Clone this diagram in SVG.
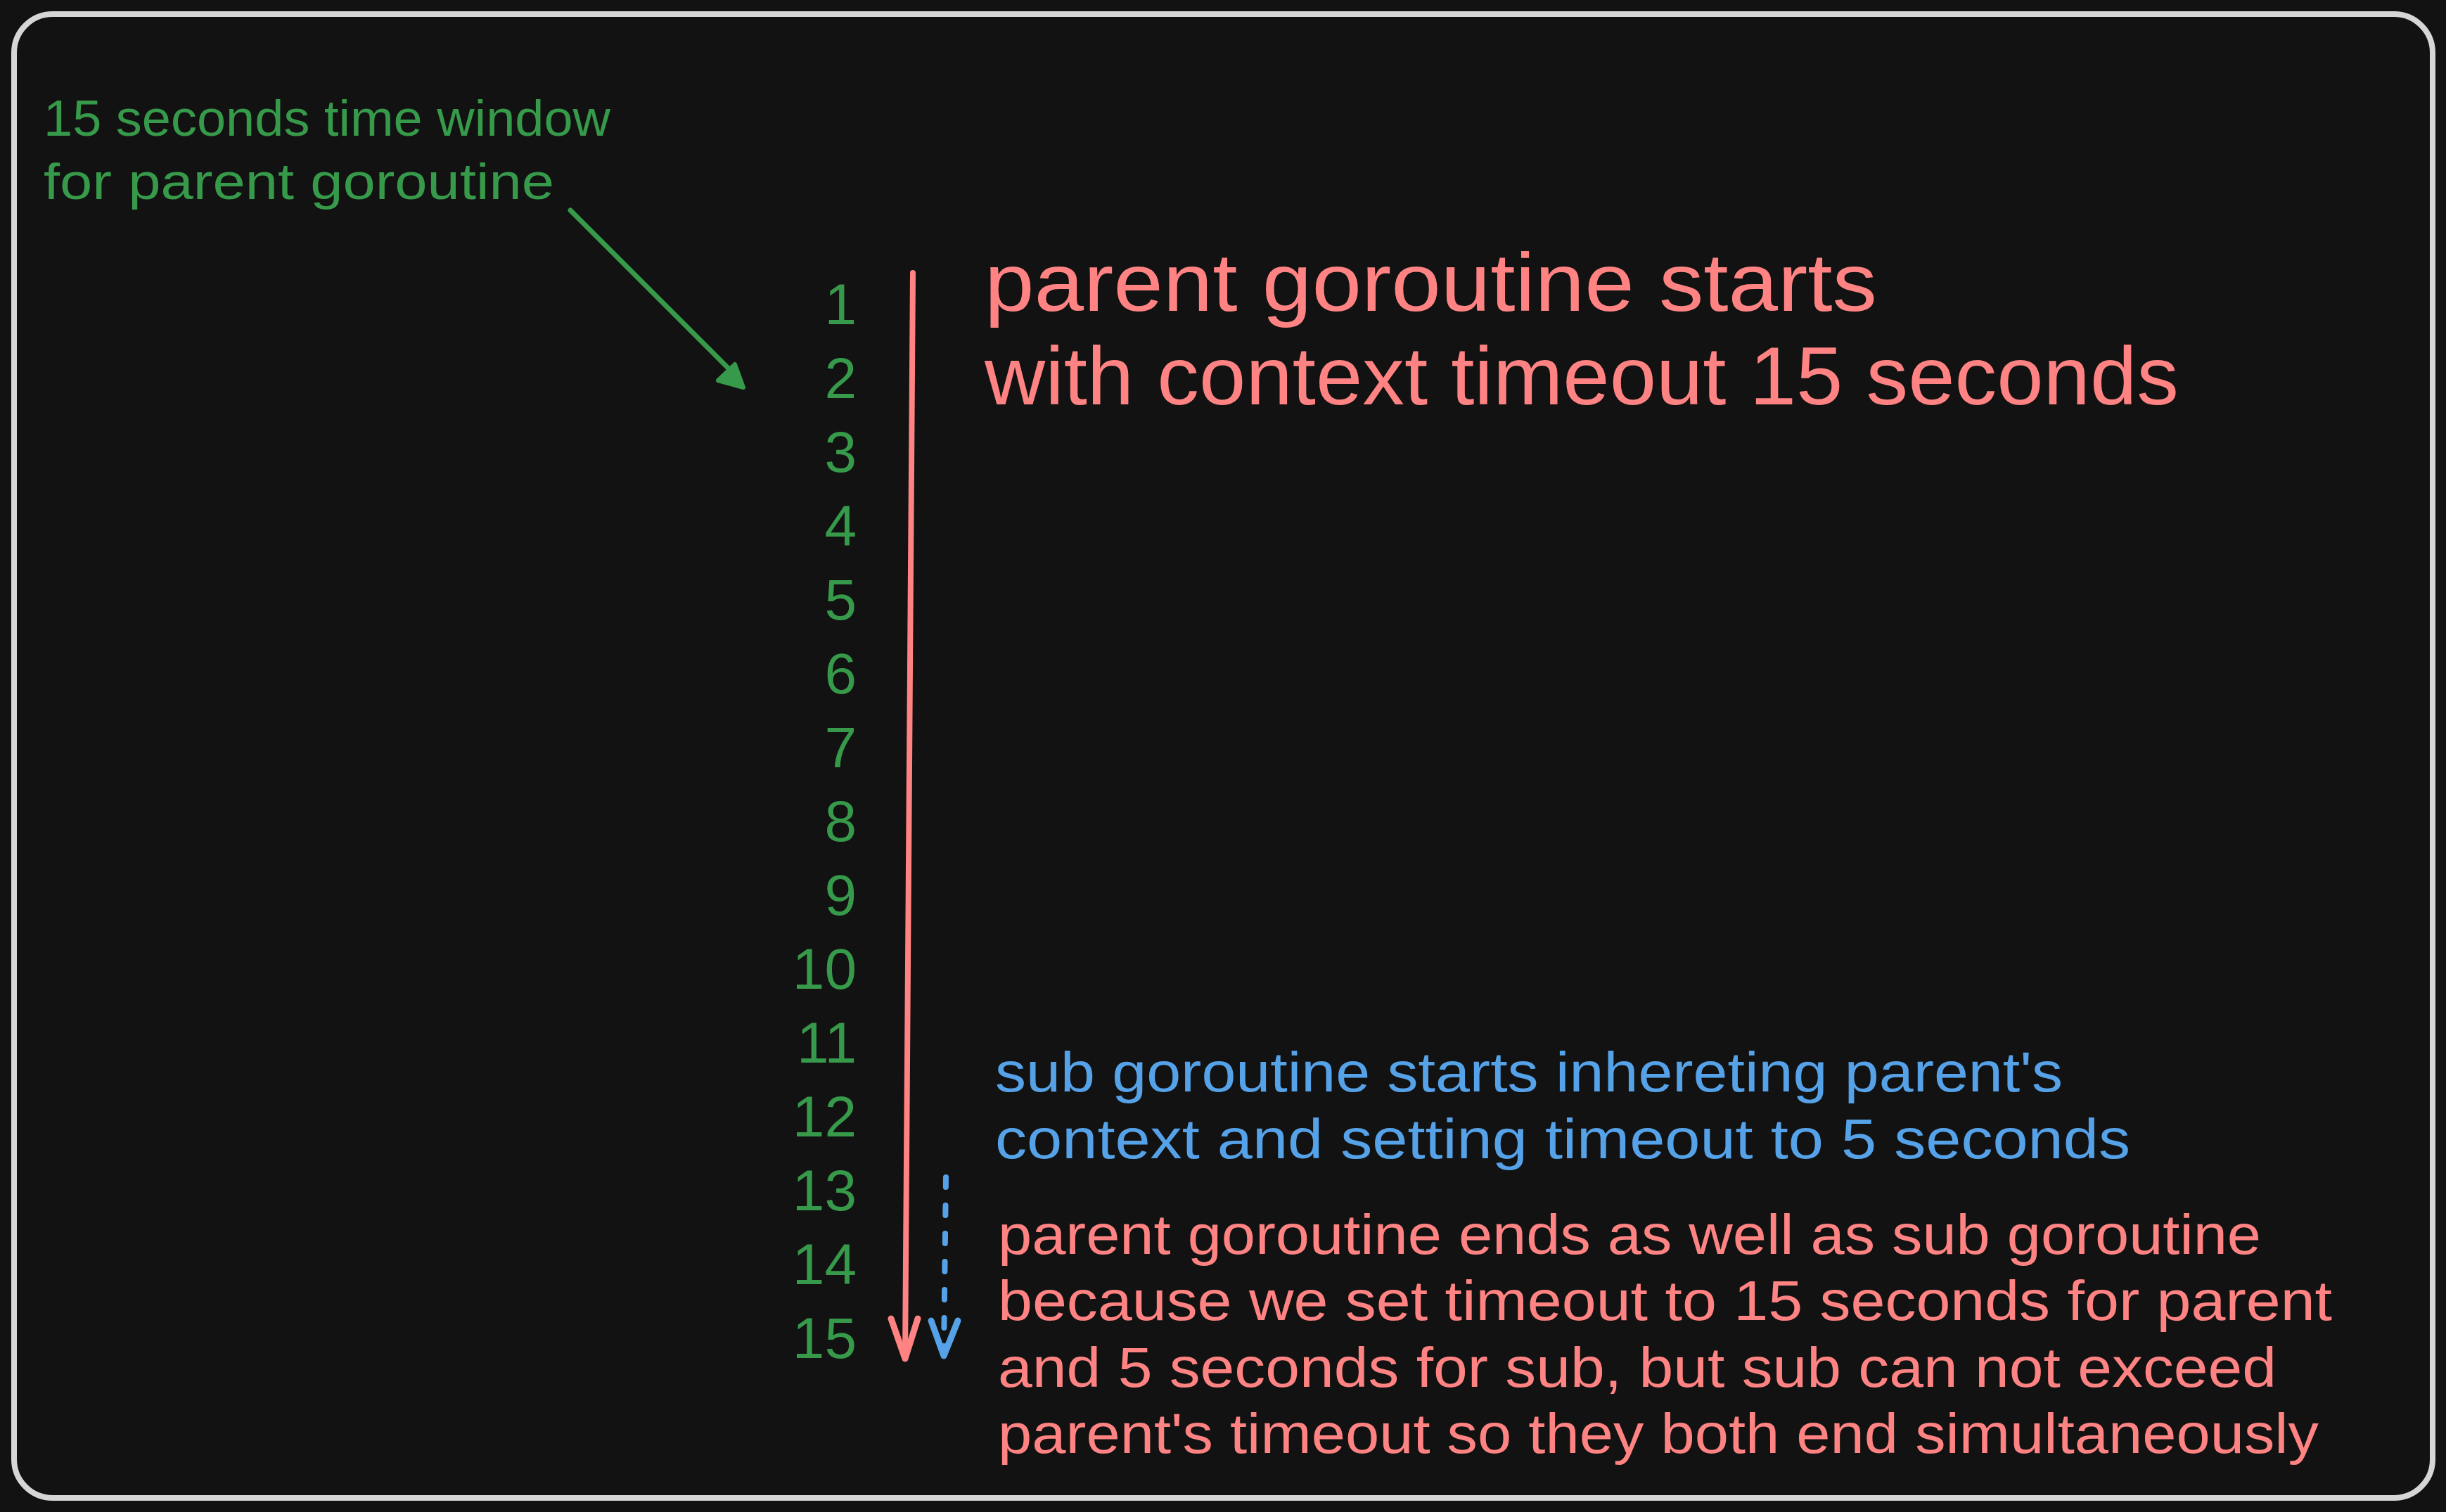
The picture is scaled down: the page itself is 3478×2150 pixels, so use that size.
<svg xmlns="http://www.w3.org/2000/svg" width="3478" height="2150" viewBox="0 0 3478 2150">
<style>
  text { font-family: "Liberation Sans", "DejaVu Sans", sans-serif; }
  .g { fill: #369a4a; }
  .r { fill: #ff8383; }
  .b { fill: #56a2e8; }
  .num { font-size: 82px; text-anchor: end; fill: #369a4a; }
  .ln { fill: none; stroke-linecap: round; stroke-linejoin: round; }
</style>
<rect x="0" y="0" width="3478" height="2150" fill="#121212"/>
<g id="frame">
  <rect x="20" y="20" width="3439" height="2110" rx="55" ry="55" fill="#121212" stroke="#d6d6d6" stroke-width="8"/>
</g>
<g id="note-window">
  <text class="g" x="62" y="193" font-size="72" textLength="806" lengthAdjust="spacingAndGlyphs">15 seconds time window</text>
  <text class="g" x="62" y="283" font-size="72" textLength="726" lengthAdjust="spacingAndGlyphs">for parent goroutine</text>
</g>
<g id="timeline-numbers">
  <text class="num" x="1218" y="461">1</text>
  <text class="num" x="1218" y="566">2</text>
  <text class="num" x="1218" y="671">3</text>
  <text class="num" x="1218" y="776">4</text>
  <text class="num" x="1218" y="881">5</text>
  <text class="num" x="1218" y="986">6</text>
  <text class="num" x="1218" y="1091">7</text>
  <text class="num" x="1218" y="1196">8</text>
  <text class="num" x="1218" y="1301">9</text>
  <text class="num" x="1218" y="1406">10</text>
  <text class="num" x="1218" y="1511">11</text>
  <text class="num" x="1218" y="1616">12</text>
  <text class="num" x="1218" y="1721">13</text>
  <text class="num" x="1218" y="1826">14</text>
  <text class="num" x="1218" y="1931">15</text>
</g>
<g id="parent-start">
  <text class="r" x="1400" y="442" font-size="116" textLength="1269" lengthAdjust="spacingAndGlyphs">parent goroutine starts</text>
  <text class="r" x="1400" y="575" font-size="116" textLength="1698" lengthAdjust="spacingAndGlyphs">with context timeout 15 seconds</text>
</g>
<g id="sub-start">
  <text class="b" x="1415" y="1552" font-size="80" textLength="1518" lengthAdjust="spacingAndGlyphs">sub goroutine starts inhereting parent's</text>
  <text class="b" x="1415" y="1647" font-size="80" textLength="1614" lengthAdjust="spacingAndGlyphs">context and setting timeout to 5 seconds</text>
</g>
<g id="both-end">
  <text class="r" x="1419" y="1783" font-size="80" textLength="1796" lengthAdjust="spacingAndGlyphs">parent goroutine ends as well as sub goroutine</text>
  <text class="r" x="1419" y="1877" font-size="80" textLength="1897" lengthAdjust="spacingAndGlyphs">because we set timeout to 15 seconds for parent</text>
  <text class="r" x="1419" y="1972" font-size="80" textLength="1818" lengthAdjust="spacingAndGlyphs">and 5 seconds for sub, but sub can not exceed</text>
  <text class="r" x="1419" y="2066" font-size="80" textLength="1878" lengthAdjust="spacingAndGlyphs">parent's timeout so they both end simultaneously</text>
</g>
<g id="connectors">
  <g id="window-arrow">
    <path class="ln" d="M811 299 L1038 526" stroke="#369a4a" stroke-width="7"/>
    <path d="M1057 551 L1021 541 L1045 518 Z" fill="#369a4a" stroke="#369a4a" stroke-width="6" stroke-linejoin="round"/>
  </g>
  <g id="parent-timeline">
    <path class="ln" d="M1298 388 L1287 1932" stroke="#ff8383" stroke-width="8"/>
    <path class="ln" d="M1267 1875 L1287 1932 L1305 1875" stroke="#ff8383" stroke-width="9"/>
  </g>
  <g id="sub-timeline">
    <path class="ln" d="M1345 1674 L1342 1922" stroke="#56a2e8" stroke-width="8" stroke-dasharray="14 26"/>
    <path class="ln" d="M1324 1878 L1342 1928 L1362 1878" stroke="#56a2e8" stroke-width="9"/>
  </g>
</g>
</svg>
